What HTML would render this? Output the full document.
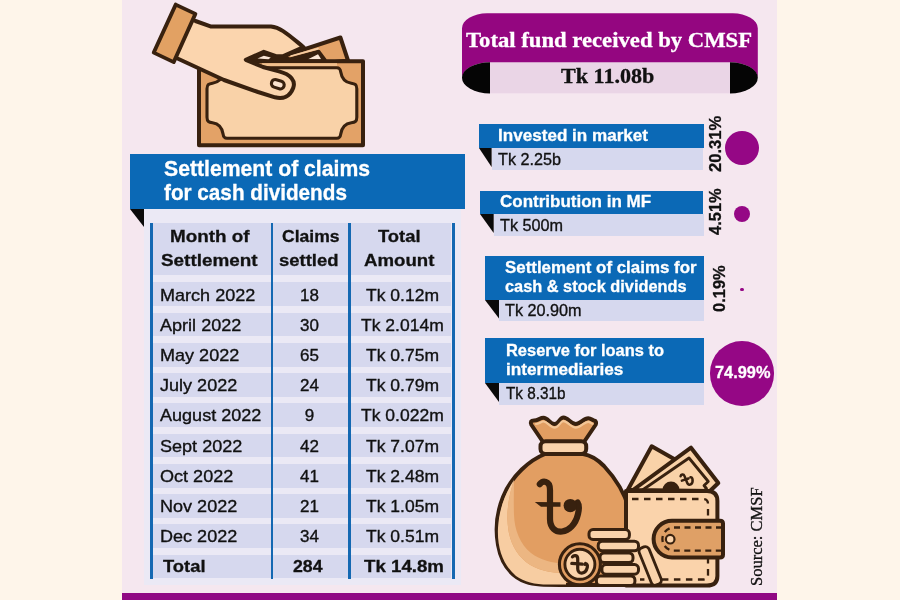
<!DOCTYPE html>
<html lang="en">
<head>
<meta charset="utf-8">
<title>CMSF fund infographic</title>
<style>
html,body{margin:0;padding:0;}
html{background:#fef5ea;}
body{width:900px;height:600px;position:relative;overflow:hidden;background:#fef5ea;font-family:"Liberation Sans",sans-serif;color:#111;}
.abs{position:absolute;}
#panel{left:122px;top:0;width:655px;height:600px;background:#f5e7ef;}
#bar{left:122px;top:593px;width:655px;height:7px;background:#900884;}
.t{position:absolute;white-space:nowrap;transform-origin:0 0;line-height:1;color:#111;}
.b{font-weight:bold;-webkit-text-stroke:0.3px currentColor;}
.r{-webkit-text-stroke:0.35px currentColor;}
.serif{font-family:"Liberation Serif",serif;}
.blue{position:absolute;background:#0b69b6;}
.lt{position:absolute;background:#d6d8ee;}
.vl{position:absolute;top:223px;height:356px;width:2.6px;background:#1468b2;}
.dot{position:absolute;border-radius:50%;background:#950785;}
svg{position:absolute;overflow:visible;}
</style>
</head>
<body>
<div id="panel" class="abs"></div>
<div id="bar" class="abs"></div>
<div class="blue" style="left:130px;top:154px;width:334.6px;height:55px;"></div>
<svg style="left:130px;top:209px;" width="14" height="19"><polygon points="0,0 14,0 14,18" fill="#0a0a0a"/></svg>
<div class="abs" style="left:144px;top:209px;width:317px;height:376px;background:#ebe9f5;"></div>
<div class="lt" style="left:150px;top:223px;width:300.6px;height:52px;"></div>
<div class="lt" style="left:150px;top:282.4px;width:300.6px;height:23.8px;"></div>
<div class="lt" style="left:150px;top:312.6px;width:300.6px;height:23.8px;"></div>
<div class="lt" style="left:150px;top:342.9px;width:300.6px;height:23.8px;"></div>
<div class="lt" style="left:150px;top:373.1px;width:300.6px;height:23.8px;"></div>
<div class="lt" style="left:150px;top:403.4px;width:300.6px;height:23.8px;"></div>
<div class="lt" style="left:150px;top:433.6px;width:300.6px;height:23.8px;"></div>
<div class="lt" style="left:150px;top:463.8px;width:300.6px;height:23.8px;"></div>
<div class="lt" style="left:150px;top:494.1px;width:300.6px;height:23.8px;"></div>
<div class="lt" style="left:150px;top:524.3px;width:300.6px;height:23.8px;"></div>
<div class="lt" style="left:150px;top:554.6px;width:300.6px;height:23.8px;"></div>
<div class="vl" style="left:150px;"></div>
<div class="vl" style="left:270.6px;"></div>
<div class="vl" style="left:348.4px;"></div>
<div class="vl" style="left:452.3px;"></div>
<div class="blue" style="left:479px;top:124px;width:224.5px;height:23.5px;"></div>
<div class="lt" style="left:491.6px;top:147.5px;width:211.9px;height:22px;"></div>
<svg style="left:479px;top:147.5px;" width="12.6" height="20"><polygon points="0,0 12.6,0 12.6,19" fill="#0a0a0a"/></svg>
<div class="blue" style="left:480.3px;top:191px;width:223.2px;height:23px;"></div>
<div class="lt" style="left:494px;top:214px;width:209.5px;height:22px;"></div>
<svg style="left:480.3px;top:214px;" width="13.7" height="20"><polygon points="0,0 13.7,0 13.7,19" fill="#0a0a0a"/></svg>
<div class="blue" style="left:485px;top:255.5px;width:218.5px;height:44px;"></div>
<div class="lt" style="left:499px;top:299.5px;width:204.5px;height:21.5px;"></div>
<svg style="left:485px;top:299.5px;" width="14.0" height="20"><polygon points="0,0 14.0,0 14.0,18.5" fill="#0a0a0a"/></svg>
<div class="blue" style="left:485px;top:338.3px;width:218.5px;height:44.5px;"></div>
<div class="lt" style="left:499px;top:382.8px;width:204.5px;height:22px;"></div>
<svg style="left:485px;top:382.8px;" width="14.0" height="20"><polygon points="0,0 14.0,0 14.0,19" fill="#0a0a0a"/></svg>
<div class="dot" style="left:724.7px;top:130.5px;width:34px;height:34px;"></div>
<div class="dot" style="left:733.7px;top:205.8px;width:16px;height:16px;"></div>
<div class="dot" style="left:740.4px;top:287.7px;width:3.2px;height:3.2px;"></div>
<div class="dot" style="left:709.9px;top:341.4px;width:64.2px;height:64.2px;"></div>
<svg style="left:0;top:0;" width="900" height="110">
<rect x="490" y="62" width="240" height="31.3" fill="#ead5e6"/>
<path d="M462 78 V28.3 A25 15 0 0 1 487 13.3 H732.8 A25 15 0 0 1 757.8 28.3 V78 A27.8 16 0 0 0 730 62.2 H490 A28 16 0 0 0 462 78 Z" fill="#940680"/>
<path d="M490 62.2 A28 15.6 0 0 0 490 93.4 Z" fill="#050505"/>
<path d="M730 62.2 A27.8 15.6 0 0 1 730 93.4 Z" fill="#050505"/>
</svg>
<svg style="left:0;top:0;" width="900" height="160" viewBox="0 0 900 160">
<g stroke="#38210f" stroke-width="4" stroke-linejoin="round" stroke-linecap="round">
<!-- back bill -->
<path d="M283.3 56.2 L340.4 37.5 L348 60.5 L300 66 Z" fill="#e3a267"/>
<path d="M286 60 L318.7 51.2 L325.2 60 Z" fill="#38210f" stroke-width="3"/>
<path d="M308 59.2 L318 54.2 L321.2 59.2 Z" fill="#fbe6d6" stroke="none"/>
<path d="M291 56 L318 48.6" fill="none" stroke="#f6cda2" stroke-width="1.7"/>
<!-- front bill -->
<rect x="199" y="61.3" width="164" height="84" fill="#e3a267"/>
<rect x="262" y="63.2" width="75" height="3" fill="#f1c08d" stroke="none"/>
<path d="M237.0 67.8 L336.8 67.8 C339.3 67.8 340.3 68.8 340.8 72.3 C341.8 78.8 344.8 82.3 351.3 83.3 C354.8 83.8 356.8 84.3 356.8 88.8 L356.8 117.2 C356.8 121.7 354.8 122.2 351.3 122.7 C344.8 123.7 341.8 127.2 340.8 133.7 C340.3 137.2 339.3 138.2 336.8 138.2 L227.0 138.2 C224.5 138.2 223.5 137.2 223.0 133.7 C222.0 127.2 219.0 123.7 212.5 122.7 C209.0 122.2 207.0 121.7 207.0 117.2 L207.0 88.8 C207.0 84.3 209.0 83.8 212.5 83.3 C219.0 82.3 222.0 78.8 223.0 72.3 C223.5 68.8 224.5 67.8 227.0 67.8 Z" fill="#f9d2a8" stroke-width="3.1"/>
<!-- dark wedge in the web between thumb and finger -->
<path d="M247 59.8 L263.8 52.2 L276 56.4 L284 56.4 L284 61 L262 62 Z" fill="#38210f" stroke-width="2"/>
<path d="M257.5 58.5 L263.8 55.7 L270.8 57.4 L268.5 59.3 Z" fill="#fbe6d6" stroke="none"/>
<!-- hand -->
<path d="M188 18 L195.5 21 L210.5 26.4 L271 26.6 C281 27.5 288 34.5 303.6 47.2 L283.3 56.2 L276 56.2 L263.8 51.8 L245.8 59.8 L263 67 L279 71.4 C291 74.5 295.8 81 293.2 88 C290 96.5 283 99.5 275 97.3 L258 92 L224 80 L177.5 58.5 L170 55 Z" fill="#fbd5ae"/>
<!-- thumbnail -->
<rect x="271.3" y="80.3" width="13" height="7.8" rx="3.8" transform="rotate(17 277.8 84.2)" fill="#fbe3cf" stroke-width="3.1"/>
<!-- cuff -->
<path d="M175.7 4.6 L195.4 13.9 L173.7 62.1 L153.7 52.6 Z" fill="#e2a163" stroke-width="3.8"/>
</g>
</svg>
<svg style="left:0;top:400px;" width="900" height="200" viewBox="0 400 900 200">
<g stroke="#38210f" stroke-width="4" stroke-linejoin="round" stroke-linecap="round">
<!-- wallet bills -->
<path d="M627.7 490 L651.7 446.3 L675 459.5 L650 490 Z" fill="#f9d2a8"/>
<path d="M633 490 L691 447.7 L718.3 483 L710 491 Z" fill="#f9d2a8"/>
<path d="M642.5 490 L689 458 L708.3 481.5 L704 485.5 L706.5 488.5 L704 491" fill="none" stroke-width="2.8"/>
<path d="M662.5 490 A8.3 8.3 0 0 1 679.5 490 Z" fill="#38210f" stroke="none"/>
<!-- small taka on bill -->
<g transform="translate(686.5 479.8) rotate(-22) scale(0.23)" stroke-width="11" fill="none">
<path d="M-18 -24 C-14 -30 -2 -30 -2 -18 L-2 14 C-2 30 20 30 25 8 C26 2 24 -3 20 -4"/>
<path d="M-20 -4 L10 -2"/>
</g>
<!-- bag body -->
<path d="M545 454 C530 460 512 475 503 497 C497 512 495 528 498 545 C501 562 510 576 526 582 C534 585 545 585 560 585 L622 585 C633 585 636 560 633 530 C631 505 620 483 604 466 C597 459 590 455 583 454 Z" fill="#e29e62"/>
<path d="M514 480 C505 493 499 510 498 528 C497 548 503 565 516 576 C524 582 535 584.5 548 584.5 L566 584.5 L566 573 C550 573 536 570 526 562 C514 552 508 538 507.5 520 C507 505 510 492 514 480 Z" fill="#f7cda2" stroke="none"/>
<path d="M514 480 C510 492 507 505 507.5 520 C508 538 514 552 526 562 C536 570 550 573 566 573 L566 564 C552 563 540 560 531 553 C520 544 514.5 530 514 515 C513.5 502 514 490 514 480 Z" fill="#ecb682" stroke="none"/>
<!-- bag neck frill -->
<path d="M543 442 L531.5 425 C530 422 531 420.5 534 420.5 C538 420.5 540 417.8 543.5 417.8 C548 417.8 550 424 554.5 424 C559 424 559.5 417.5 563.5 417.5 C568 417.5 571 424 575.8 424 C580.5 424 583.5 418.2 588.3 418.2 C591 418.2 592 420 594 420.5 C596.5 421 596.5 423 595.5 425 L584 442 Z" fill="#e29e62"/>
<path d="M536 424 C539 424 541 421.5 543.5 421.5 C547.5 421.5 550 427.6 554.5 427.6 C559 427.6 560 421.2 563.5 421.2 C567.5 421.2 571 427.6 575.8 427.6 C580.5 427.6 584 421.8 588.3 421.8 C590 421.8 591 423.4 592.5 423.8" fill="none" stroke="#f3c595" stroke-width="2.2"/>
<rect x="540.5" y="441.3" width="45.7" height="12.6" rx="5" fill="#fad3ab"/>
<!-- taka on bag -->
<path d="M539.8 484.2 C542.5 480.5 550 480 550 490 L550 519 C550 537 573 536 578 514 C579.2 509 579 504.5 577.6 502.5" fill="none" stroke-width="6.2"/>
<circle cx="570.3" cy="505.6" r="6.7" fill="#38210f" stroke="none"/>
<path d="M534.8 502 L560.5 502.2 L560.5 506.7 L541 506.7 Z" fill="#38210f" stroke="none"/>
<!-- wallet -->
<path d="M626 491 H707 Q717.4 491 717.4 501 V576 Q717.4 585.6 707 585.6 H626 Z" fill="#fad3ab"/>
<path d="M632 499 H703 Q708 499 708 504 V575 Q708 579.5 703 579.5 H640" fill="none" stroke-width="2.3" stroke-dasharray="6.5 5.5" stroke-linecap="butt"/>
<!-- strap -->
<path d="M672 520.7 H720 Q723 520.7 723 523.5 V554.7 Q723 557.5 720 557.5 H672 A18.4 18.4 0 0 1 672 520.7 Z" fill="#dfa066"/>
<path d="M722 527.5 H674 A11.6 11.6 0 0 0 674 550.7 H722" fill="none" stroke-width="2.3" stroke-dasharray="6 4.5" stroke-linecap="butt"/>
<circle cx="670.2" cy="539.2" r="4.3" fill="#fad3ab" stroke-width="2.2"/>
<!-- leaning coin -->
<rect x="645" y="546" width="10.5" height="40" rx="4" transform="rotate(-22 650 566)" fill="#fad3ab" stroke-width="2.8"/>
<!-- coin stack -->
<g fill="#fad3ab" stroke-width="3">
<rect x="596.4" y="576" width="38.5" height="9.6" rx="4"/>
<rect x="601.9" y="564.6" width="36.6" height="9.6" rx="4"/>
<rect x="600" y="553" width="33" height="9.6" rx="4"/>
<rect x="598.2" y="541.2" width="40.3" height="9.6" rx="4"/>
<rect x="589" y="529.6" width="40.4" height="9.8" rx="4"/>
</g>
<!-- coin -->
<circle cx="579.9" cy="564.3" r="20.5" fill="#e29e62" stroke-width="3.1"/>
<circle cx="579.9" cy="564.3" r="15" fill="#fad3ab" stroke-width="2.9"/>
<g transform="translate(579.7 564.8) scale(0.33)" stroke-width="9.8" fill="none">
<path d="M-22 -24 C-18 -30 -6 -30 -6 -18 L-6 12 C-6 30 18 30 23 8 C24 2 22 -3 18 -4"/>
<path d="M-24 -4 L8 -2"/>
<circle cx="16" cy="-1" r="5" fill="#38210f" stroke="none"/>
</g>
</g>
</svg>
<div class="t b" style="left:164.0px;top:158.1px;font-size:22px;color:#fff;transform:scaleX(0.963);">Settlement of claims</div>
<div class="t b" style="left:164.0px;top:181.9px;font-size:22px;color:#fff;transform:scaleX(0.941);">for cash dividends</div>
<div class="t b" style="left:170.0px;top:228.2px;font-size:17px;transform:scaleX(1.109);">Month of</div>
<div class="t b" style="left:161.0px;top:252.2px;font-size:17px;transform:scaleX(1.111);">Settlement</div>
<div class="t b" style="left:281.9px;top:228.2px;font-size:17px;transform:scaleX(1.031);">Claims</div>
<div class="t b" style="left:279.4px;top:252.2px;font-size:17px;transform:scaleX(1.086);">settled</div>
<div class="t b" style="left:377.8px;top:228.2px;font-size:17px;transform:scaleX(1.082);">Total</div>
<div class="t b" style="left:364.0px;top:252.2px;font-size:17px;transform:scaleX(1.096);">Amount</div>
<div class="t r" style="left:159.7px;top:286.5px;font-size:17px;transform:scaleX(1.062);">March 2022</div>
<div class="t r" style="left:300.0px;top:286.5px;font-size:17px;">18</div>
<div class="t r" style="left:366.2px;top:286.5px;font-size:17px;transform:scaleX(1.030);">Tk 0.12m</div>
<div class="t r" style="left:159.7px;top:316.7px;font-size:17px;transform:scaleX(1.062);">April 2022</div>
<div class="t r" style="left:300.0px;top:316.7px;font-size:17px;">30</div>
<div class="t r" style="left:361.3px;top:316.7px;font-size:17px;transform:scaleX(1.030);">Tk 2.014m</div>
<div class="t r" style="left:159.7px;top:347.0px;font-size:17px;transform:scaleX(1.062);">May 2022</div>
<div class="t r" style="left:300.0px;top:347.0px;font-size:17px;">65</div>
<div class="t r" style="left:366.2px;top:347.0px;font-size:17px;transform:scaleX(1.030);">Tk 0.75m</div>
<div class="t r" style="left:159.7px;top:377.2px;font-size:17px;transform:scaleX(1.062);">July 2022</div>
<div class="t r" style="left:300.0px;top:377.2px;font-size:17px;">24</div>
<div class="t r" style="left:366.2px;top:377.2px;font-size:17px;transform:scaleX(1.030);">Tk 0.79m</div>
<div class="t r" style="left:159.7px;top:407.4px;font-size:17px;transform:scaleX(1.062);">August 2022</div>
<div class="t r" style="left:304.8px;top:407.4px;font-size:17px;">9</div>
<div class="t r" style="left:361.3px;top:407.4px;font-size:17px;transform:scaleX(1.030);">Tk 0.022m</div>
<div class="t r" style="left:159.7px;top:437.7px;font-size:17px;transform:scaleX(1.062);">Sept 2022</div>
<div class="t r" style="left:300.0px;top:437.7px;font-size:17px;">42</div>
<div class="t r" style="left:366.2px;top:437.7px;font-size:17px;transform:scaleX(1.030);">Tk 7.07m</div>
<div class="t r" style="left:159.7px;top:467.9px;font-size:17px;transform:scaleX(1.062);">Oct 2022</div>
<div class="t r" style="left:300.0px;top:467.9px;font-size:17px;">41</div>
<div class="t r" style="left:366.2px;top:467.9px;font-size:17px;transform:scaleX(1.030);">Tk 2.48m</div>
<div class="t r" style="left:159.7px;top:498.1px;font-size:17px;transform:scaleX(1.062);">Nov 2022</div>
<div class="t r" style="left:300.0px;top:498.1px;font-size:17px;">21</div>
<div class="t r" style="left:366.2px;top:498.1px;font-size:17px;transform:scaleX(1.030);">Tk 1.05m</div>
<div class="t r" style="left:159.7px;top:528.3px;font-size:17px;transform:scaleX(1.062);">Dec 2022</div>
<div class="t r" style="left:300.0px;top:528.3px;font-size:17px;">34</div>
<div class="t r" style="left:366.2px;top:528.3px;font-size:17px;transform:scaleX(1.030);">Tk 0.51m</div>
<div class="t b" style="left:163.3px;top:558.3px;font-size:17px;transform:scaleX(1.080);">Total</div>
<div class="t b" style="left:292.7px;top:558.3px;font-size:17px;transform:scaleX(1.040);">284</div>
<div class="t b" style="left:364.0px;top:558.3px;font-size:17px;transform:scaleX(1.099);">Tk 14.8m</div>
<div class="t b serif" style="left:465.6px;top:29.8px;font-size:21.5px;color:#fff;transform:scaleX(1.055);">Total fund received by CMSF</div>
<div class="t b serif" style="left:561.0px;top:66.4px;font-size:21px;transform:scaleX(1.053);">Tk 11.08b</div>
<div class="t b" style="left:498.0px;top:126.6px;font-size:17px;color:#fff;transform:scaleX(1.005);">Invested in market</div>
<div class="t r" style="left:498.0px;top:150.6px;font-size:17px;transform:scaleX(0.952);">Tk 2.25b</div>
<div class="t b" style="left:500.0px;top:193.2px;font-size:17px;color:#fff;">Contribution in MF</div>
<div class="t r" style="left:500.2px;top:217.2px;font-size:17px;transform:scaleX(0.953);">Tk 500m</div>
<div class="t b" style="left:505.0px;top:259.0px;font-size:16.5px;color:#fff;transform:scaleX(1.024);">Settlement of claims for</div>
<div class="t b" style="left:505.0px;top:278.0px;font-size:16.5px;color:#fff;transform:scaleX(0.990);">cash &amp; stock dividends</div>
<div class="t r" style="left:505.0px;top:302.0px;font-size:17px;transform:scaleX(0.954);">Tk 20.90m</div>
<div class="t b" style="left:505.6px;top:341.6px;font-size:16.5px;color:#fff;transform:scaleX(0.996);">Reserve for loans to</div>
<div class="t b" style="left:505.6px;top:361.1px;font-size:16.5px;color:#fff;transform:scaleX(1.040);">intermediaries</div>
<div class="t r" style="left:505.6px;top:384.9px;font-size:17px;transform:scaleX(0.899);">Tk 8.31b</div>
<div class="t b" style="left:714.5px;top:363.6px;font-size:17px;color:#fff;transform:scaleX(0.962);">74.99%</div>
<div class="t b" style="left:707.0px;top:172.3px;font-size:17px;transform:rotate(-90deg) scaleX(0.978);">20.31%</div>
<div class="t b" style="left:707.0px;top:235.3px;font-size:17px;transform:rotate(-90deg) scaleX(0.969);">4.51%</div>
<div class="t b" style="left:710.7px;top:312.0px;font-size:17px;transform:rotate(-90deg) scaleX(0.969);">0.19%</div>
<div class="t r serif" style="left:748.4px;top:585.5px;font-size:17.5px;transform:rotate(-90deg) scaleX(0.944);">Source: CMSF</div>
</body>
</html>
